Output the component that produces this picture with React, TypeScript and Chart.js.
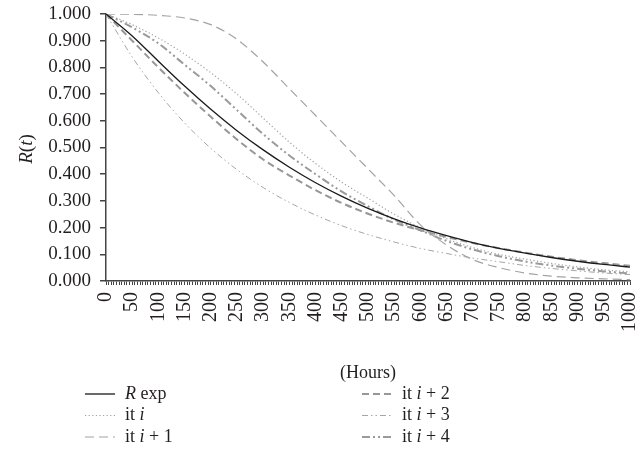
import { useEffect, useRef } from 'react';
import { Chart, registerables } from 'chart.js';

Chart.register(...registerables);

const hours = [0, 50, 100, 150, 200, 250, 300, 350, 400, 450, 500, 550, 600, 650, 700, 750, 800, 850, 900, 950, 1000];

const rExp = [1, 0.918, 0.823, 0.73, 0.643, 0.563, 0.491, 0.426, 0.368, 0.317, 0.272, 0.233, 0.199, 0.17, 0.144, 0.122, 0.104, 0.088, 0.074, 0.062, 0.052];
const itI = [1, 0.96, 0.91, 0.85, 0.78, 0.7, 0.61, 0.52, 0.44, 0.37, 0.31, 0.25, 0.2, 0.158, 0.125, 0.1, 0.082, 0.066, 0.053, 0.042, 0.034];
const itI1 = [1, 0.999, 0.995, 0.985, 0.96, 0.905, 0.82, 0.72, 0.62, 0.52, 0.42, 0.32, 0.21, 0.135, 0.08, 0.05, 0.03, 0.018, 0.012, 0.008, 0.005];
const itI2 = [1, 0.9, 0.8, 0.705, 0.615, 0.53, 0.455, 0.395, 0.34, 0.292, 0.252, 0.218, 0.19, 0.165, 0.142, 0.123, 0.106, 0.091, 0.078, 0.067, 0.057];
const itI3 = [1, 0.839, 0.705, 0.592, 0.497, 0.417, 0.35, 0.294, 0.247, 0.207, 0.174, 0.146, 0.122, 0.103, 0.086, 0.072, 0.058, 0.047, 0.038, 0.03, 0.024];
const itI4 = [1, 0.95, 0.89, 0.81, 0.73, 0.64, 0.55, 0.47, 0.4, 0.335, 0.28, 0.23, 0.19, 0.15, 0.118, 0.093, 0.073, 0.058, 0.046, 0.036, 0.028];

const seriesNames = ['R exp', 'it i', 'it i + 1', 'it i + 2', 'it i + 3', 'it i + 4'];
// legend label pieces: [text, italic]
const legendParts: [string, boolean][][] = [
  [['R', true], [' exp', false]],
  [['it ', false], ['i', true]],
  [['it ', false], ['i', true], [' + 1', false]],
  [['it ', false], ['i', true], [' + 2', false]],
  [['it ', false], ['i', true], [' + 3', false]],
  [['it ', false], ['i', true], [' + 4', false]],
];
const yTitleParts: [string, boolean][] = [['R', true], ['(', false], ['t', true], [')', false]];
const xTitle = '(Hours)';

const FONT = '"Liberation Serif", "DejaVu Serif", serif';
const TEXT = '#231f20';

function drawParts(ctx: CanvasRenderingContext2D, parts: [string, boolean][], x: number, y: number, size: number, align: 'left' | 'center') {
  let total = 0;
  const widths = parts.map(([t, it]) => {
    ctx.font = `${it ? 'italic ' : ''}${size}px ${FONT}`;
    const w = ctx.measureText(t).width;
    total += w;
    return w;
  });
  let cx = align === 'center' ? x - total / 2 : x;
  parts.forEach(([t, it], i) => {
    ctx.font = `${it ? 'italic ' : ''}${size}px ${FONT}`;
    ctx.fillText(t, cx, y);
    cx += widths[i];
  });
}

const extrasPlugin = {
  id: 'extras',
  afterDraw(chart: any) {
    const ctx: CanvasRenderingContext2D = chart.ctx;
    ctx.save();
    ctx.fillStyle = TEXT;
    ctx.textBaseline = 'middle';
    ctx.textAlign = 'left';
    // y title
    ctx.save();
    ctx.translate(27, 149);
    ctx.rotate(-Math.PI / 2);
    drawParts(ctx, yTitleParts, 0, 0, 19, 'center');
    ctx.restore();
    // legend
    const colLineX = [85, 362];
    const rowY = [394, 415.5, 437];
    chart.data.datasets.forEach((ds: any, i: number) => {
      const col = Math.floor(i / 3);
      const row = i % 3;
      const lx = colLineX[col];
      const ly = rowY[row];
      ctx.save();
      ctx.strokeStyle = ds.borderColor;
      ctx.lineWidth = ds.borderWidth;
      ctx.setLineDash(ds.borderDash || []);
      ctx.beginPath();
      ctx.moveTo(lx, ly);
      ctx.lineTo(lx + 30, ly);
      ctx.stroke();
      ctx.restore();
      ctx.fillStyle = TEXT;
      drawParts(ctx, legendParts[i], lx + 40, ly, 18, 'left');
    });
    ctx.restore();
  },
};

export default function App() {
  const ref = useRef<HTMLCanvasElement | null>(null);
  useEffect(() => {
    if (!ref.current) return;
    const pts = (vals: number[]) => hours.map((h, i) => ({ x: h, y: vals[i] }));
    const styles = [
      { color: '#1a1a1a', width: 1.3, dash: [] as number[] },
      { color: '#a0a0a0', width: 1.2, dash: [1.2, 2.4] },
      { color: '#a3a3a3', width: 1.2, dash: [9, 5] },
      { color: '#979797', width: 2, dash: [7, 4] },
      { color: '#a6a6a6', width: 1, dash: [6, 3, 1.5, 3, 1.5, 3] },
      { color: '#9a9a9a', width: 2, dash: [8, 3, 2, 3, 2, 3] },
    ];
    const series = [rExp, itI, itI1, itI2, itI3, itI4];
    const chart = new Chart(ref.current, {
      type: 'line',
      data: {
        datasets: series.map((s, i) => ({
          label: seriesNames[i],
          data: pts(s),
          borderColor: styles[i].color,
          borderWidth: styles[i].width,
          borderDash: styles[i].dash,
          pointRadius: 0,
          fill: false,
          cubicInterpolationMode: 'monotone' as const,
        })),
      },
      options: {
        responsive: false,
        animation: false,
        events: [],
        layout: { padding: { top: 14, right: 13, left: 0, bottom: 60 } },
        plugins: { legend: { display: false }, tooltip: { enabled: false } },
        scales: {
          x: {
            type: 'linear',
            min: 0,
            max: 1000,
            border: { color: '#444', width: 1.5 },
            grid: { drawOnChartArea: false, drawTicks: true, tickLength: 4, color: '#444', lineWidth: 1 },
            ticks: {
              stepSize: 5,
              autoSkip: false,
              minRotation: 90,
              maxRotation: 90,
              padding: 7,
              color: TEXT,
              font: { family: FONT, size: 20 },
              callback: (v: any) => (Number(v) % 50 === 0 ? String(v) : ''),
            },
            title: {
              display: true,
              text: xTitle,
              color: TEXT,
              font: { family: FONT, size: 18 },
              padding: { top: 0, bottom: 7 },
            },
            afterFit: (s: any) => {
              s.height = 110;
              s.paddingLeft = 0;
              s.paddingRight = 0;
              s.paddingTop = 0;
              s.paddingBottom = 0;
            },
          },
          y: {
            type: 'linear',
            min: 0,
            max: 1,
            border: { color: '#444', width: 1.5 },
            grid: { drawOnChartArea: false, drawTicks: true, tickLength: 6, color: '#444', lineWidth: 1.5 },
            ticks: {
              stepSize: 0.1,
              padding: 9,
              color: TEXT,
              font: { family: FONT, size: 19 },
              callback: (v: any) => Number(v).toFixed(3),
            },
            afterFit: (s: any) => {
              s.width = 106;
              s.paddingTop = 0;
              s.paddingBottom = 0;
              s.paddingLeft = 0;
              s.paddingRight = 0;
            },
          },
        },
      },
      plugins: [extrasPlugin],
    });
    return () => chart.destroy();
  }, []);
  return (
    <div style={{ position: 'fixed', left: 0, top: 0, width: 643, height: 451, background: '#fff' }}>
      <canvas ref={ref} width={643} height={451} style={{ display: 'block', width: 643, height: 451 }} />
    </div>
  );
}
